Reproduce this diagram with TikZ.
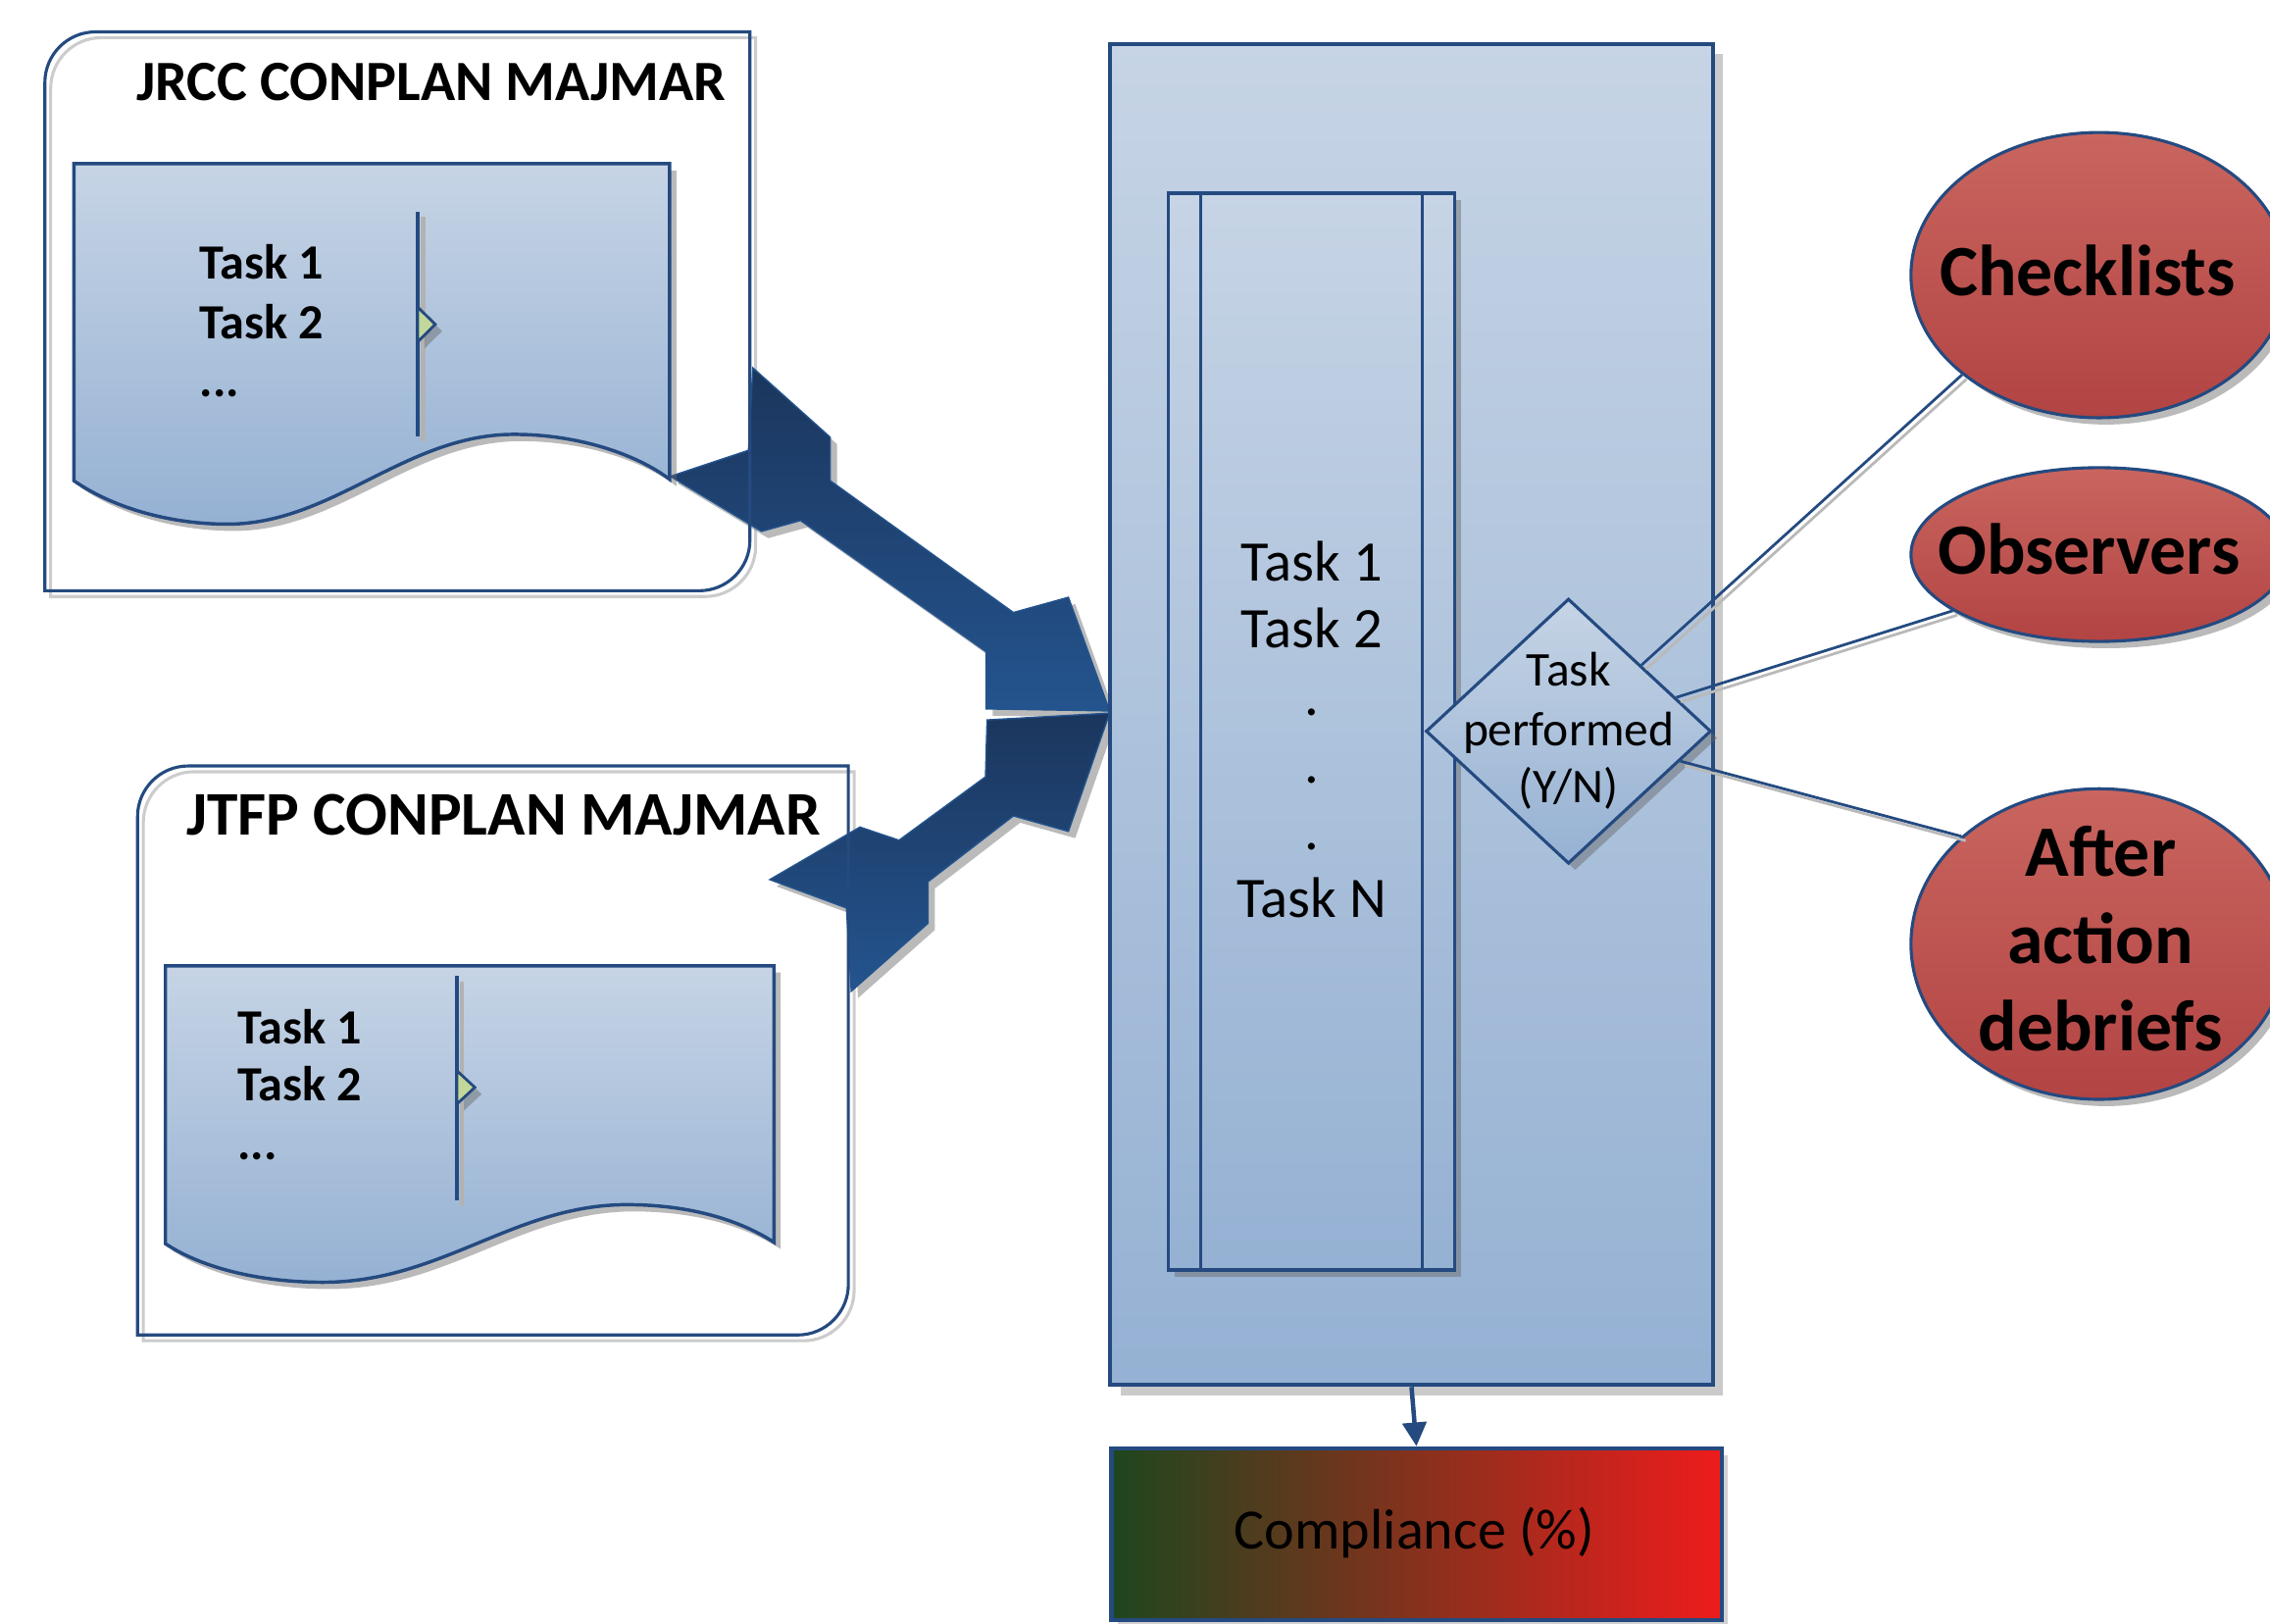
\documentclass[tikz,border=0pt]{standalone}
\usepackage{fontspec}
\setmainfont{Carlito}
\usetikzlibrary{shapes.geometric,arrows.meta,shadows,calc}
\definecolor{bord}{RGB}{36,74,128}
\definecolor{lblT}{RGB}{198,212,229}
\definecolor{lblB}{RGB}{149,177,211}
\definecolor{navyD}{RGB}{27,54,93}
\definecolor{navyL}{RGB}{36,84,142}
\definecolor{redT}{RGB}{201,101,95}
\definecolor{redB}{RGB}{178,68,67}
\definecolor{trig}{RGB}{196,215,155}
\definecolor{cGreen}{RGB}{30,70,30}
\definecolor{cMid}{RGB}{142,43,30}
\definecolor{cRed}{RGB}{238,28,28}
\begin{document}
\begin{tikzpicture}[x=0.015cm,y=-0.015cm,
  frameline/.style={draw=bord, line width=0.9pt},
  frameshadow/.style={draw=gray!40, line width=0.9pt},
  shad/.style={drop shadow={shadow xshift=2pt,shadow yshift=-2pt,opacity=0.45,fill=black!60}},
  docshape/.style={draw=bord, line width=1pt, top color=lblT, bottom color=lblB, shad},
  bigarrow/.style={draw=navyL, line width=0.4pt, top color=navyD, bottom color=navyL, shad},
  sepline/.style={draw=bord, line width=1pt},
  sepshadow/.style={draw=gray!60, line width=1.4pt},
  tri/.style={draw=bord, line width=0.8pt, fill=trig, shad},
  titletext/.style={inner sep=0pt, anchor=base east, font=\bfseries},
  doctext/.style={inner sep=0pt, anchor=base west, font=\fontsize{14.5}{17}\selectfont\bfseries},
  maintext/.style={inner sep=0pt, anchor=base, font=\fontsize{16.9}{19}\selectfont},
  diatext/.style={inner sep=0pt, anchor=base, font=\fontsize{14.3}{16}\selectfont},
  elltext/.style={inner sep=0pt, anchor=base, font=\fontsize{21.3}{25}\selectfont\bfseries},
  mainbox/.style={rectangle, draw=bord, line width=1.2pt, top color=lblT, bottom color=lblB, inner sep=0pt,
     drop shadow={shadow xshift=3pt,shadow yshift=-3pt,opacity=0.35,fill=black!60}},
  procbox/.style={rectangle, draw=bord, line width=1pt, top color=lblT, bottom color=lblB, inner sep=0pt, shad},
  decision/.style={diamond, draw=bord, line width=0.9pt, top color=lblT, bottom color=lblB, inner sep=0pt, shad},
  source/.style={ellipse, draw=bord, line width=0.9pt, top color=redT, bottom color=redB, inner sep=0pt, shad},
  compbox/.style={rectangle, draw=bord, line width=1.2pt, left color=cGreen, middle color=cMid, right color=cRed, inner sep=0pt,
     drop shadow={shadow xshift=2pt,shadow yshift=-2pt,opacity=0.3,fill=black!60}},
  conn/.style={draw=bord, line width=0.8pt,
     preaction={draw=gray!55, line width=0.8pt, transform canvas={shift={(1.3pt,-1.3pt)}}}},
  flow/.style={draw=bord, line width=1.3pt, -{Triangle[length=7pt,width=7pt]}}
]
\useasboundingbox (0,0) rectangle (1568,1121);
\clip (0,0) rectangle (1568,1121);

% ---------- outer frames: shadows ----------
\draw[frameshadow, shift={(4,4)}] (31,300) [rounded corners=0.525cm] -- (31,22) -- (300,22) [sharp corners] -- (518,22) -- (518,300) [rounded corners=0.525cm] -- (518,408) -- (300,408) [sharp corners] -- (31,408) -- cycle;
\draw[frameshadow, shift={(4,4)}] (95,800) [rounded corners=0.525cm] -- (95,529) -- (350,529) [sharp corners] -- (586,529) -- (586,800) [rounded corners=0.525cm] -- (586,922) -- (350,922) [sharp corners] -- (95,922) -- cycle;

% ---------- big block arrows ----------
\path[bigarrow] (520,254) -- (573.5,302) -- (573.5,332) -- (700,423) -- (738,412.5) -- (766.5,491)
  -- (681,489.6) -- (681,450) -- (553,359.5) -- (526,367) -- (463,329) -- (517,311) -- cycle;
\path[bigarrow] (766.5,492.5) -- (738,574.2) -- (700,563.5) -- (641,609) -- (641,637.7) -- (588,684.6)
  -- (584.7,627.1) -- (531.7,607.5) -- (594,571.2) -- (621,580.3) -- (680.7,536.5) -- (681.8,497.2) -- cycle;

% ---------- outer frames ----------
\draw[frameline] (31,300) [rounded corners=0.525cm] -- (31,22) -- (300,22) [sharp corners] -- (518,22) -- (518,300) [rounded corners=0.525cm] -- (518,408) -- (300,408) [sharp corners] -- (31,408) -- cycle;
\draw[frameline] (95,800) [rounded corners=0.525cm] -- (95,529) -- (350,529) [sharp corners] -- (586,529) -- (586,800) [rounded corners=0.525cm] -- (586,922) -- (350,922) [sharp corners] -- (95,922) -- cycle;

\node[titletext, font=\fontsize{16.8}{19}\selectfont\bfseries] (jrcct) at (502,69.6) {JRCC CONPLAN MAJMAR};
\node[titletext, font=\fontsize{18.3}{21}\selectfont\bfseries] (jtfpt) at (567.4,576.4) {JTFP CONPLAN MAJMAR};

% ---------- document shapes ----------
\path[docshape] (51,113) -- (462.5,113) -- (462.5,331)
  .. controls (440,314) and (400,300) .. (355,300)
  .. controls (280,300) and (230,362) .. (157,362)
  .. controls (120,362) and (80,352) .. (51,332) -- cycle;
\path[docshape] (114.3,667) -- (534.6,667) -- (534.6,858)
  .. controls (510,842) and (475,832) .. (433,832)
  .. controls (355,832) and (305,885.6) .. (223,885.6)
  .. controls (180,885.6) and (140,876) .. (114.3,859) -- cycle;

\draw[sepshadow] (292,150) -- (292,305);
\draw[sepline] (288.6,146.3) -- (288.6,301.4);
\path[tri] (288.6,212.2) -- (300.7,224) -- (288.6,236) -- cycle;
\draw[sepshadow] (319,678) -- (319,833);
\draw[sepline] (315.7,674) -- (315.7,829);
\path[tri] (315.7,739.6) -- (328,751) -- (315.7,762.4) -- cycle;

\node[doctext] (a1) at (137.5,193) {Task 1};
\node[doctext] (a2) at (137.5,233.7) {Task 2};
\node[doctext] (a3) at (137.5,274) {...};
\node[doctext] (b1) at (163.6,721) {Task 1};
\node[doctext] (b2) at (163.6,760.6) {Task 2};
\node[doctext] (b3) at (163.6,801) {...};

% ---------- main block ----------
\node[mainbox, minimum width=6.24cm, minimum height=13.89cm] (main) at (975,493.5) {};
\node[procbox, minimum width=2.967cm, minimum height=11.154cm] (proc) at (905.9,505.2) {};
\draw[sepline] ([xshift=0.354cm]proc.north west) -- ([xshift=0.354cm]proc.south west);
\draw[sepline] ([xshift=-0.354cm]proc.north east) -- ([xshift=-0.354cm]proc.south east);

\node[maintext] (m1) at (906,401) {Task 1};
\node[maintext] (m2) at (906,447.6) {Task 2};
\node[maintext] (m3) at (906,494) {.};
\node[maintext] (m4) at (906,540.6) {.};
\node[maintext] (m5) at (906,587) {.};
\node[maintext] (m6) at (906,633.8) {Task N};

\node[decision, minimum width=2.955cm, minimum height=2.745cm] (diam) at (1083.4,505) {};
\node[diatext] (d1) at (1083.5,474) {Task};
\node[diatext] (d2) at (1083.5,514.8) {performed};
\node[diatext] (d3) at (1083.5,554.3) {(Y/N)};

% ---------- sources ----------
\node[source, minimum width=3.9cm, minimum height=2.955cm] (check) at (1450,190) {};
\node[source, minimum width=3.9cm, minimum height=1.8cm] (obs) at (1450,383) {};
\node[source, minimum width=3.9cm, minimum height=3.2175cm] (aad) at (1450,652) {};
\node[elltext] (e1) at (1442,204.5) {Checklists};
\node[elltext] (e2) at (1443,396.6) {Observers};
\node[elltext] (e3) at (1451,605.3) {After};
\node[elltext] (e4) at (1451,665.7) {action};
\node[elltext] (e5) at (1451,725.4) {debriefs};

\draw[conn] (diam) -- (check.216);
\draw[conn] (diam) -- (obs.201);
\draw[conn] (diam) -- (aad.142);

% ---------- compliance ----------
\node[compbox, minimum width=6.32cm, minimum height=1.778cm] (comp) at (978.4,1059.5) {};
\node[maintext, font=\fontsize{16.8}{19}\selectfont] (ct) at (977,1070) {Compliance (\%)};
\draw[flow] (main.south) -- (comp.north);
\end{tikzpicture}
\end{document}
